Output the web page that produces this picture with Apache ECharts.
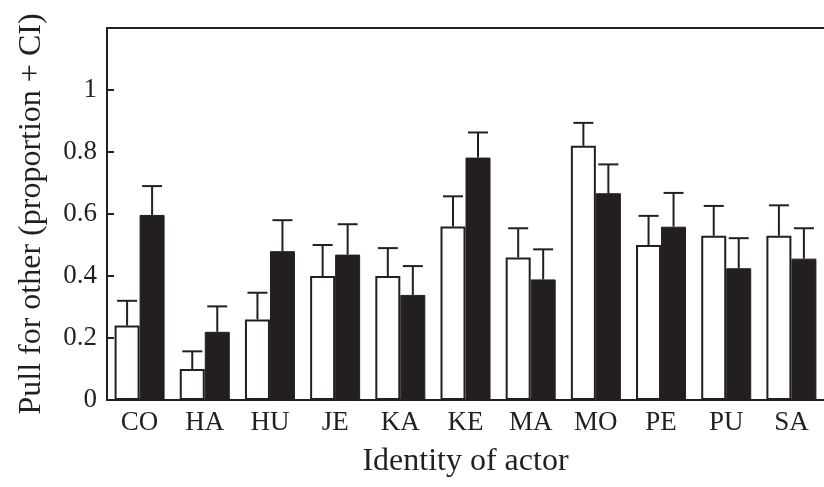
<!DOCTYPE html>
<html>
<head>
<meta charset="utf-8">
<script src="https://cdn.jsdelivr.net/npm/echarts@6/dist/echarts.min.js"></script>
<style>
html, body { margin: 0; padding: 0; background: #fff; }
#chart { width: 824px; height: 487px; }
</style>
</head>
<body>
<div id="chart"></div>
<script>
// actors
var categories = ["CO", "HA", "HU", "JE", "KA", "KE", "MA", "MO", "PE", "PU", "SA"];
// white bars: proportion and upper end of CI
var whiteValues = [0.24, 0.10, 0.26, 0.40, 0.40, 0.56, 0.46, 0.82, 0.50, 0.53, 0.53];
var whiteUpper  = [0.32, 0.157, 0.346, 0.50, 0.49, 0.657, 0.554, 0.894, 0.594, 0.626, 0.628];
// black bars
var blackValues = [0.597, 0.22, 0.48, 0.469, 0.339, 0.782, 0.389, 0.667, 0.559, 0.425, 0.456];
var blackUpper  = [0.69, 0.302, 0.58, 0.567, 0.432, 0.863, 0.486, 0.76, 0.668, 0.522, 0.554];
var yTicks = [0, 0.2, 0.4, 0.6, 0.8, 1];

var ink = "#231f20";
var font = "Liberation Serif";
var barW = 25;

function errData(vals, ups) {
    var out = [];
    for (var i = 0; i < vals.length; i++) {
        out.push([i, vals[i], ups[i]]);
    }
    return out;
}

function errRender(offset) {
    return function (params, api) {
        var base = api.coord([api.value(0), api.value(1)]);
        var top = api.coord([api.value(0), api.value(2)]);
        var x = base[0] + offset;
        var style = { stroke: ink, lineWidth: 2 };
        return {
            type: "group",
            children: [
                { type: "line", shape: { x1: x, y1: base[1], x2: x, y2: top[1] }, style: style },
                { type: "line", shape: { x1: x - 10, y1: top[1], x2: x + 10, y2: top[1] }, style: style }
            ]
        };
    };
}

var chart = echarts.init(document.getElementById("chart"));
chart.setOption({
    animation: false,
    backgroundColor: "#fff",
    textStyle: { fontFamily: font },
    grid: { left: 107, right: 0, top: 28, bottom: 87, containLabel: false },
    xAxis: [{
        type: "category",
        data: categories,
        position: "bottom",
        axisLine: { lineStyle: { color: ink, width: 2 } },
        axisTick: { show: false },
        axisLabel: { color: ink, fontSize: 27, fontFamily: font, margin: 9 },
        name: "Identity of actor",
        nameLocation: "middle",
        nameGap: 46,
        nameTextStyle: { color: ink, fontSize: 32, fontFamily: font }
    }, {
        type: "category",
        data: categories,
        position: "top",
        axisLine: { lineStyle: { color: ink, width: 2 } },
        axisTick: { show: false },
        axisLabel: { show: false }
    }],
    yAxis: {
        type: "value",
        min: 0,
        max: 1.2,
        interval: 0.2,
        splitLine: { show: false },
        axisLine: { show: true, lineStyle: { color: ink, width: 2 } },
        axisTick: { show: true, inside: true, length: 7, customValues: yTicks, lineStyle: { color: ink, width: 2 } },
        axisLabel: { color: ink, fontSize: 27, fontFamily: font, margin: 10, customValues: yTicks },
        name: "Pull for other (proportion + CI)",
        nameLocation: "middle",
        nameGap: 59,
        nameTextStyle: { color: ink, fontSize: 32, fontFamily: font }
    },
    series: [{
        type: "bar",
        data: whiteValues,
        barWidth: barW,
        barGap: "0%",
        itemStyle: { color: "#fff", borderColor: ink, borderWidth: 2 }
    }, {
        type: "bar",
        data: blackValues,
        barWidth: barW,
        barGap: "0%",
        itemStyle: { color: ink, borderColor: ink, borderWidth: 1 }
    }, {
        type: "custom",
        renderItem: errRender(-barW / 2),
        data: errData(whiteValues, whiteUpper),
        encode: { x: 0, y: [1, 2] },
        z: 1
    }, {
        type: "custom",
        renderItem: errRender(barW / 2),
        data: errData(blackValues, blackUpper),
        encode: { x: 0, y: [1, 2] },
        z: 1
    }]
});
</script>
</body>
</html>
